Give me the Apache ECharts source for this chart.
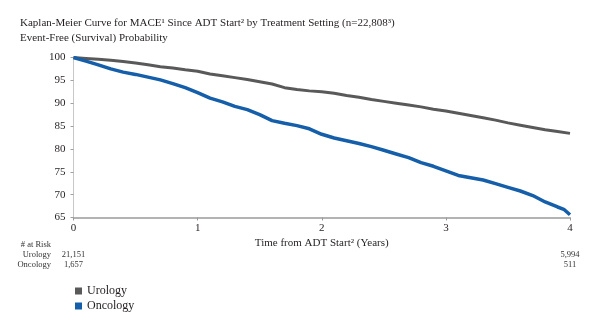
<!DOCTYPE html>
<html>
<head>
<meta charset="utf-8">
<script src="https://cdn.jsdelivr.net/npm/echarts@6/dist/echarts.min.js"></script>
<style>
html,body{margin:0;padding:0;background:#fff;}
#chart{width:600px;height:332px;}
</style>
</head>
<body>
<div id="chart"></div>
<script>
// ---- data ----
var titleText = 'Kaplan-Meier Curve for MACE\u00b9 Since ADT Start\u00b2 by Treatment Setting (n=22,808\u00b3)';
var yAxisTitle = 'Event-Free (Survival) Probability';
var xAxisTitle = 'Time from ADT Start\u00b2 (Years)';
var seriesNames = ['Urology', 'Oncology'];

var timesUrology = [0,0.1,0.2,0.3,0.4,0.5,0.6,0.7,0.8,0.9,1.0,1.1,1.2,1.3,1.4,1.5,1.6,1.7,1.8,1.9,2.0,2.1,2.2,2.3,2.4,2.5,2.6,2.7,2.8,2.9,3.0,3.1,3.2,3.3,3.4,3.5,3.6,3.7,3.8,3.9,4.0];
var urologyValues = [100,99.8,99.6,99.4,99.1,98.8,98.4,98.0,97.7,97.3,97.0,96.4,96.0,95.6,95.2,94.7,94.2,93.4,93.0,92.7,92.5,92.2,91.7,91.3,90.8,90.4,90.0,89.6,89.2,88.7,88.3,87.8,87.3,86.8,86.3,85.7,85.2,84.7,84.2,83.8,83.4];

var timesOncology = [0,0.05,0.1,0.2,0.3,0.4,0.5,0.6,0.7,0.8,0.9,1.0,1.1,1.2,1.3,1.4,1.5,1.6,1.7,1.8,1.9,2.0,2.1,2.2,2.3,2.4,2.5,2.6,2.7,2.8,2.9,3.0,3.1,3.2,3.3,3.4,3.5,3.6,3.7,3.8,3.9,3.95,4.0];
var oncologyValues = [100,99.6,99.2,98.4,97.5,96.8,96.3,95.7,95.1,94.3,93.4,92.3,91.1,90.3,89.3,88.6,87.5,86.2,85.6,85.1,84.4,83.2,82.4,81.8,81.2,80.5,79.7,78.9,78.1,77.0,76.2,75.2,74.2,73.7,73.2,72.4,71.6,70.8,69.8,68.4,67.3,66.8,65.6];

var xTicks = [0, 1, 2, 3, 4];
var yTicks = [65, 70, 75, 80, 85, 90, 95, 100];

var riskLabel = '# at Risk';
var riskTimes = [0, 4];
var riskUrology = ['21,151', '5,994'];
var riskOncology = ['1,657', '511'];

// ---- chart ----
var colors = ['#595959', '#155ea9'];
var FONT = '"Liberation Serif", "DejaVu Serif", serif';
var TXT = '#231f20';

function pairs(xs, ys){ return xs.map(function(x,i){ return [x, ys[i]]; }); }

var chart = echarts.init(document.getElementById('chart'), null, {renderer:'canvas'});
var option = {
  animation: false,
  color: colors,
  textStyle: {fontFamily: FONT, color: TXT},
  title: {
    text: titleText + '\n' + yAxisTitle,
    left: 20, top: 16, padding: 0,
    textStyle: {fontFamily: FONT, fontSize: 11, fontWeight: 'normal', color: TXT, lineHeight: 15}
  },
  legend: {
    orient: 'vertical',
    left: 75, top: 285, padding: 0,
    icon: 'rect', itemWidth: 7, itemHeight: 7, itemGap: 3,
    textStyle: {fontFamily: FONT, fontSize: 12, color: TXT},
    data: seriesNames
  },
  grid: {left: 73.5, right: 30, top: 57.5, bottom: 114.5, containLabel: false},
  xAxis: {
    type: 'value', min: 0, max: 4, interval: 1,
    name: xAxisTitle, nameLocation: 'middle', nameGap: 20,
    nameTextStyle: {fontFamily: FONT, fontSize: 11, color: TXT},
    axisLine: {show: true, lineStyle: {color: '#9a9a9a', width: 1.5}},
    axisTick: {show: true, length: 3, lineStyle: {color: '#9a9a9a'}},
    splitLine: {show: false},
    axisLabel: {fontFamily: FONT, fontSize: 11, color: TXT, margin: 5,
      formatter: function(v){ return xTicks.indexOf(v) >= 0 ? String(v) : ''; }}
  },
  yAxis: {
    type: 'value', min: 65, max: 100, interval: 5,
    axisLine: {show: true, lineStyle: {color: '#c8c8c8', width: 1}},
    axisTick: {show: true, length: 3, lineStyle: {color: '#a0a0a0'}},
    splitLine: {show: false},
    axisLabel: {fontFamily: FONT, fontSize: 11, color: TXT, margin: 8,
      formatter: function(v){ return yTicks.indexOf(v) >= 0 ? String(v) : ''; }}
  },
  series: [
    {name: seriesNames[0], type: 'line', data: pairs(timesUrology, urologyValues),
     showSymbol: false, smooth: false, lineStyle: {width: 3, color: colors[0]}, z: 2},
    {name: seriesNames[1], type: 'line', data: pairs(timesOncology, oncologyValues),
     showSymbol: false, smooth: false, lineStyle: {width: 3.5, color: colors[1]}, z: 3}
  ]
};
chart.setOption(option);

// at-risk table, positioned with the x axis scale
var small = {fontFamily: FONT, fontSize: 8.5, fill: '#333'};
var rowY = [245, 255, 265];
var g = [];
g.push({type:'text', right: 549, top: rowY[0]-5, style: Object.assign({text: riskLabel}, small)});
g.push({type:'text', right: 549, top: rowY[1]-5, style: Object.assign({text: seriesNames[0]}, small)});
g.push({type:'text', right: 549, top: rowY[2]-5, style: Object.assign({text: seriesNames[1]}, small)});
riskTimes.forEach(function(t, i){
  var px = chart.convertToPixel({xAxisIndex: 0}, t);
  g.push({type:'text', x: px, y: rowY[1], style: Object.assign({text: riskUrology[i], align:'center', verticalAlign:'middle'}, small)});
  g.push({type:'text', x: px, y: rowY[2], style: Object.assign({text: riskOncology[i], align:'center', verticalAlign:'middle'}, small)});
});
chart.setOption({graphic: g});
</script>
</body>
</html>
